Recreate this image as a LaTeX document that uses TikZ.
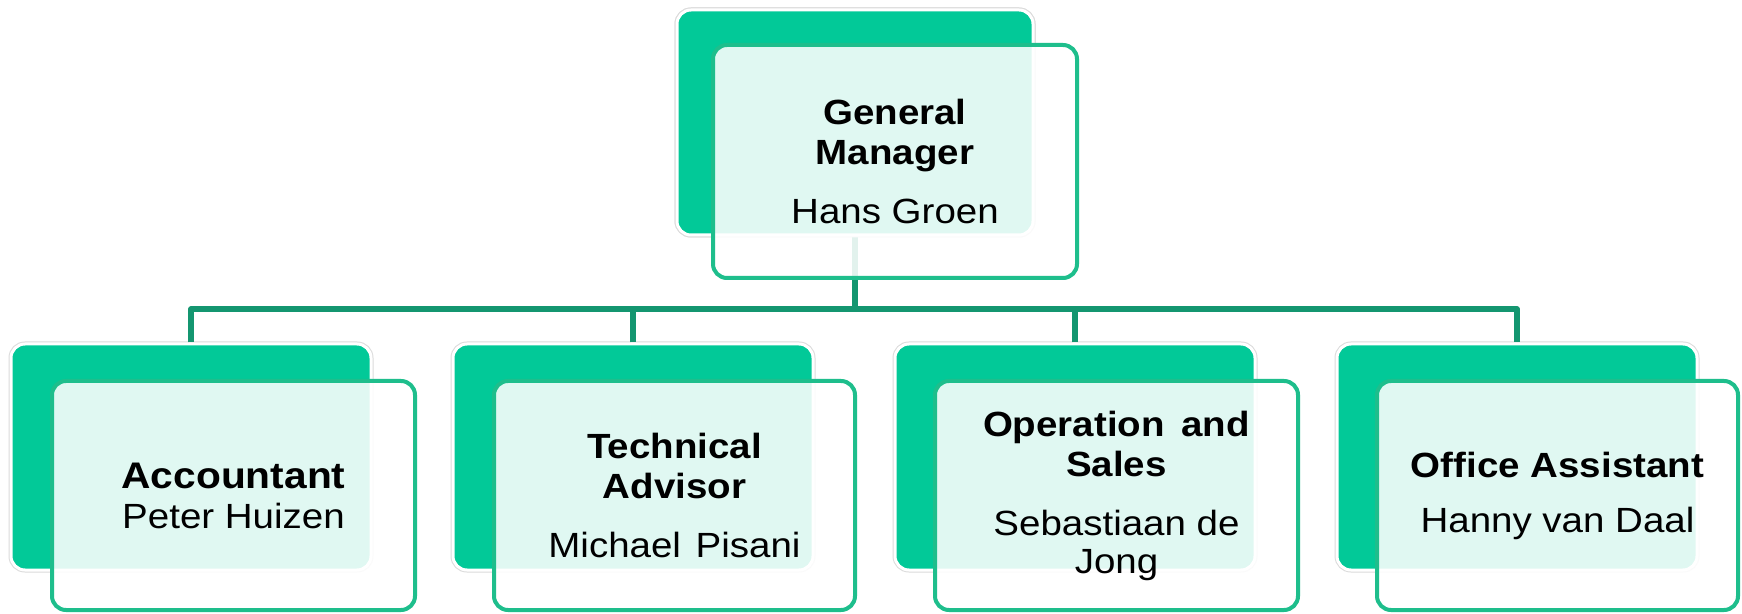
\documentclass[tikz,border=0pt]{standalone}
\usepackage{fontspec}
\setmainfont{Liberation Sans}[FakeStretch=1.1]
\definecolor{cardgreen}{RGB}{2,201,152}
\definecolor{cardedge}{RGB}{30,190,140}
\definecolor{linkgreen}{RGB}{20,150,112}
\tikzset{
  backcard/.style={rectangle, rounded corners=14pt, fill=cardgreen,
    draw=white, line width=3pt,
    preaction={draw=black!14, line width=5pt},
    minimum width=360pt, minimum height=226pt, inner sep=0pt},
  frontcard/.style={rectangle, rounded corners=14pt, fill=white,
    fill opacity=0.88, text opacity=1, draw=cardedge, draw opacity=1,
    line width=4pt, minimum width=362pt, minimum height=229pt,
    inner sep=0pt, align=center, font=\fontsize{35}{40}\selectfont},
  link/.style={draw=linkgreen, line width=5.5pt, line join=round}
}
\begin{document}
\begin{tikzpicture}[x=1pt,y=1pt]
\useasboundingbox (0,0) rectangle (1742,613);
\fill[white] (0,0) rectangle (1742,613);

% back cards
\node[backcard, minimum width=356pt, minimum height=225pt] (gmB) at (855,490.5) {};
\node[backcard] (accB)  at (191,156) {};
\node[backcard] (techB) at (633,156) {};
\node[backcard] (opsB)  at (1075,156) {};
\node[backcard] (offB)  at (1517,156) {};

% connectors
\coordinate (bar) at (0,304);
\draw[link] (gmB.south) -- (gmB.south |- bar);
\draw[link] (accB.north) -- (accB.north |- bar) -- (offB.north |- bar) -- (offB.north);
\draw[link] (techB.north) -- (techB.north |- bar);
\draw[link] (opsB.north) -- (opsB.north |- bar);

% top back card painted again so its connector starts at its lower edge
\node[backcard, minimum width=356pt, minimum height=225pt] at (855,490.5) {};

% front cards with titles and names
\node[frontcard, minimum width=364pt, minimum height=233pt] (gm) at (895,451.5)
  {\textbf{General}\\\textbf{Manager}\\[19pt]Hans Groen};
\node[frontcard, minimum width=363pt] (acc) at (233.5,117.5)
  {{\fontsize{37}{41}\selectfont\textbf{Accountant}}\\Peter Huizen};
\node[frontcard, minimum width=361pt] (tech) at (674.5,117.5)
  {\textbf{Technical}\\\textbf{Advisor}\\[19pt]Michael\hspace{4pt} Pisani};
\node[frontcard, minimum width=363pt] (ops) at (1116.5,117.5)
  {\textbf{Operation\hspace{6pt} and}\\\textbf{Sales}\\[19pt]Sebastiaan de\\[-2pt]Jong};
\node[frontcard, minimum width=361pt] (off) at (1557.5,117.5)
  {\textbf{Office Assistant}\\[15pt]Hanny van Daal};
\end{tikzpicture}
\end{document}
